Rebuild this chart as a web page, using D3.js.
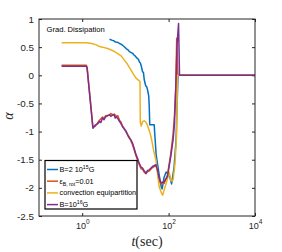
<!DOCTYPE html>
<html>
<head>
<meta charset="utf-8" />
<script src="https://cdn.jsdelivr.net/npm/d3@7"></script>
<style>
  body { margin: 0; background: #fff; }
  svg { display: block; }
</style>
</head>
<body>
<svg id="chart" width="282" height="252"></svg>
<script>
// tick values
var xTicks = [1, 100, 10000];
var xTickExp = ["0", "2", "4"];
var yTicks = [1, 0.5, 0, -0.5, -1, -1.5, -2, -2.5];

// series: [t (sec), alpha]
var bField = [[4.29,0.64],[5.02,0.62],[5.5,0.61],[5.89,0.59],[6.6,0.585],[7.28,0.565],[8.1,0.55],[9.0,0.52],[9.7,0.50],[10.5,0.47],[11.4,0.455],[12.4,0.42],[14.7,0.39],[15.8,0.36],[17.0,0.34],[18.9,0.30],[20.0,0.285],[21.0,0.24],[22.2,0.22],[23.3,0.165],[25.0,0.06],[26.2,0.05],[27.3,-0.08],[29.6,-0.19],[31.0,-0.20],[32.6,-0.26],[34.7,-0.37],[35.6,-0.55],[36.6,-0.88],[46.4,-0.88],[47.6,-1.02],[51.6,-1.42],[60.5,-1.77],[67.3,-1.98],[70.9,-2.02],[78.8,-1.81],[87.7,-1.72],[103,-1.77],[117,-1.93],[134,-1.63],[149,-1.15],[165,0],[10000,0]];
var epsRot = [[0.333,0.18],[1.25,0.18],[1.30,0.14],[1.77,-0.92],[2.04,-0.90],[2.3,-0.84],[2.52,-0.80],[2.96,-0.74],[3.2,-0.77],[3.47,-0.72],[4.29,-0.71],[4.6,-0.68],[5.02,-0.70],[5.5,-0.69],[6.21,-0.73],[6.7,-0.72],[7.28,-0.80],[7.9,-0.83],[8.53,-0.90],[9.5,-0.95],[10.5,-1.02],[11.4,-1.06],[12.4,-1.10],[13.5,-1.17],[14.7,-1.24],[16.0,-1.33],[17.6,-1.43],[19.2,-1.51],[21.0,-1.59],[23.0,-1.66],[25.0,-1.67],[27.3,-1.72],[29.9,-1.75],[32.6,-1.71],[35.6,-1.70],[42.5,-1.64],[50.8,-1.60],[55.3,-1.70],[60.5,-1.86],[66.2,-1.93],[78.8,-1.92],[93.8,-1.78],[112,-1.40],[127,-1.05],[137,-0.70],[147,-0.20],[154,0.66],[163,0],[10000,0]];
var convEq = [[0.333,0.58],[1.25,0.58],[1.65,0.565],[2.12,0.54],[2.52,0.51],[2.96,0.50],[3.86,0.475],[5.02,0.44],[5.59,0.42],[6.55,0.39],[8.09,0.34],[9.48,0.27],[11.1,0.20],[13.5,0.09],[15.3,0.02],[17.6,-0.05],[21.0,-0.10],[21.8,-0.11],[22.1,-0.83],[23.3,-0.90],[25.0,-0.82],[27.3,-0.81],[29.6,-0.83],[32.1,-0.88],[37.0,-1.02],[39.6,-1.11],[41.8,-1.20],[45.7,-1.36],[50.8,-1.50],[55.3,-1.74],[60.5,-1.98],[68.3,-2.09],[72.8,-2.13],[78.8,-2.04],[92.4,-1.86],[103,-1.72],[114,-1.88],[127,-1.86],[141,-1.56],[153,-1.06],[161,0],[10000,0]];
var bHigh = [[0.333,0.16],[1.25,0.16],[1.30,0.12],[1.77,-0.94],[2.04,-0.88],[2.3,-0.86],[2.52,-0.82],[2.7,-0.84],[2.96,-0.76],[3.2,-0.79],[3.47,-0.74],[3.8,-0.72],[4.29,-0.70],[4.6,-0.73],[5.02,-0.71],[5.5,-0.70],[5.8,-0.76],[6.21,-0.74],[6.7,-0.77],[7.28,-0.82],[7.9,-0.86],[8.53,-0.91],[9.5,-0.96],[10.5,-1.0],[11.4,-1.07],[12.4,-1.12],[13.5,-1.15],[14.7,-1.21],[16.0,-1.30],[17.6,-1.41],[19.2,-1.48],[21.0,-1.57],[23.0,-1.63],[25.0,-1.65],[27.3,-1.70],[29.9,-1.74],[32.6,-1.69],[35.6,-1.68],[42.5,-1.62],[50.8,-1.59],[55.3,-1.68],[60.5,-1.83],[66.2,-1.91],[78.8,-1.89],[93.8,-1.80],[112,-1.45],[127,-1.15],[137,-0.85],[147,-0.2],[157,0.55],[170,0.92],[179,0],[10000,0]];

var series = [bField, epsRot, convEq, bHigh];
var colors = ["#0072BD", "#D95319", "#EDB120", "#7E2F8E"];
// legend labels as pieces: [text, kind]
var labels = [
  [["B=2 10", ""], ["15", "sup"], ["G", ""]],
  [["\u03B5", ""], ["B, rot", "sub"], ["=0.01", ""]],
  [["convection equipartition", ""]],
  [["B=10", ""], ["16", "sup"], ["G", ""]]
];

var svg = d3.select("#chart");
var pLeft = 39, pRight = 255, pTop = 19, pBottom = 216;

var x = d3.scaleLog().domain([0.1, 10000]).range([pLeft, pRight]);
var y = d3.scaleLinear().domain([-2.5, 1]).range([pBottom, pTop]);

svg.append("defs").append("clipPath").attr("id", "clip")
  .append("rect").attr("x", pLeft).attr("y", pTop)
  .attr("width", pRight - pLeft).attr("height", pBottom - pTop);

var axisColor = "#262626";

// left axis with labels
var gy = svg.append("g").attr("transform", "translate(" + pLeft + ",0)")
  .call(d3.axisLeft(y).tickValues(yTicks).tickSize(-3).tickPadding(5)
    .tickFormat(function(d) { return String(d); }));
// right axis ticks
var gy2 = svg.append("g").attr("transform", "translate(" + pRight + ",0)")
  .call(d3.axisRight(y).tickValues(yTicks).tickSize(-3).tickFormat(""));
// bottom axis
var gx = svg.append("g").attr("transform", "translate(0," + pBottom + ")")
  .call(d3.axisBottom(x).tickValues(xTicks).tickSize(-3).tickPadding(7).tickFormat(""));
// top axis ticks
var gx2 = svg.append("g").attr("transform", "translate(0," + pTop + ")")
  .call(d3.axisTop(x).tickValues(xTicks).tickSize(-3).tickFormat(""));

[gy, gy2, gx, gx2].forEach(function(g) {
  g.select(".domain").remove();
  g.selectAll("line").attr("stroke", axisColor);
});
gy.selectAll("text").attr("font-family", "Liberation Sans, Arial, sans-serif")
  .attr("font-size", "9.8px").attr("fill", axisColor);

// x tick labels 10^k
gx.selectAll(".tick").each(function(d, i) {
  var t = d3.select(this).append("text")
    .attr("y", 12.5).attr("text-anchor", "middle")
    .attr("font-family", "Liberation Sans, Arial, sans-serif")
    .attr("font-size", "9px").attr("fill", axisColor);
  t.append("tspan").text("10");
  t.append("tspan").attr("dy", -4.5).attr("font-size", "6.5px").text(xTickExp[i]);
});

// lines
var line = d3.line().x(function(d) { return x(d[0]); }).y(function(d) { return y(d[1]); });
var plot = svg.append("g").attr("clip-path", "url(#clip)");
series.forEach(function(s, i) {
  plot.append("path").datum(s).attr("d", line)
    .attr("fill", "none").attr("stroke", colors[i])
    .attr("stroke-width", 1.5).attr("stroke-linejoin", "round");
});

// box
svg.append("rect").attr("x", pLeft).attr("y", pTop)
  .attr("width", pRight - pLeft).attr("height", pBottom - pTop)
  .attr("fill", "none").attr("stroke", axisColor).attr("stroke-width", 1);

// title inside
svg.append("text").attr("x", 46.5).attr("y", 32)
  .attr("font-family", "Liberation Sans, Arial, sans-serif")
  .attr("font-size", "7.6px").attr("fill", "#000").text("Grad. Dissipation");

// axis labels
var xl = svg.append("text").attr("x", 147).attr("y", 245.5).attr("text-anchor", "middle")
  .attr("font-family", "Liberation Serif, Times New Roman, serif").attr("font-size", "14px")
  .attr("fill", axisColor);
xl.append("tspan").attr("font-style", "italic").text("t");
xl.append("tspan").text("(sec)");

svg.append("text").attr("transform", "translate(13,116) rotate(-90)")
  .attr("text-anchor", "middle")
  .attr("font-family", "Liberation Serif, Times New Roman, serif").attr("font-size", "14px")
  .attr("font-style", "italic").attr("fill", axisColor).text("\u03B1");

// legend
var lg = svg.append("g");
lg.append("rect").attr("x", 45).attr("y", 160.5).attr("width", 92).attr("height", 48.5)
  .attr("fill", "#fff").attr("stroke", "#000").attr("stroke-width", 1.2);
labels.forEach(function(lab, i) {
  var cy = 169.5 + i * 11.7;
  lg.append("line").attr("x1", 47).attr("x2", 58).attr("y1", cy).attr("y2", cy)
    .attr("stroke", colors[i]).attr("stroke-width", 1.5);
  var t = lg.append("text").attr("x", 59.5).attr("y", cy + 2.5)
    .attr("font-family", "Liberation Sans, Arial, sans-serif")
    .attr("font-size", "7.3px").attr("fill", "#000");
  var shift = 0;
  lab.forEach(function(p) {
    var ts = t.append("tspan").text(p[0]);
    var target = p[1] === "sup" ? -3 : p[1] === "sub" ? 2 : 0;
    if (p[1]) ts.attr("font-size", "5.2px");
    ts.attr("dy", target - shift);
    shift = target;
  });
});
</script>
</body>
</html>
